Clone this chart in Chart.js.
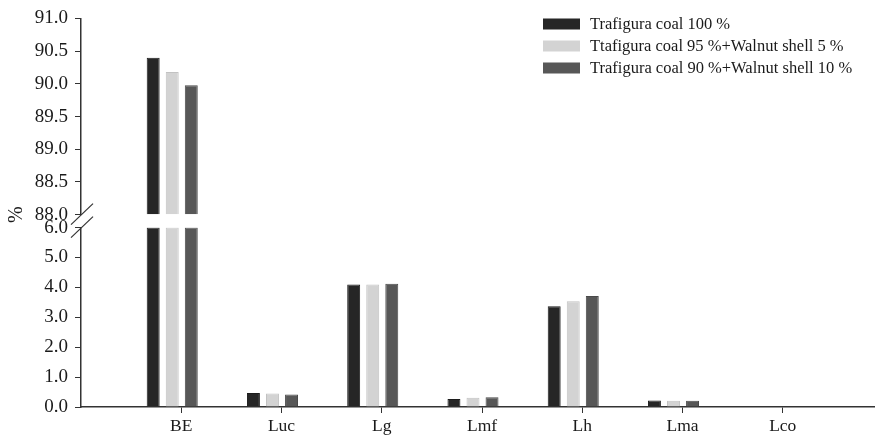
<!DOCTYPE html>
<html>
<head>
<meta charset="utf-8">
<script src="https://cdn.jsdelivr.net/npm/chart.js@4/dist/chart.umd.min.js"></script>
<style>
  html, body { margin: 0; padding: 0; background: #fff; }
  #wrap { width: 875px; height: 443px; position: relative; }
</style>
</head>
<body>
<div id="wrap"><canvas id="breakChart"></canvas></div>
<script>
// ----- data -----
const CATEGORIES = ['BE', 'Luc', 'Lg', 'Lmf', 'Lh', 'Lma', 'Lco'];
const SERIES_LABELS = [
  'Trafigura coal 100 %',
  'Ttafigura coal 95 %+Walnut shell 5 %',
  'Trafigura coal 90 %+Walnut shell 10 %'
];
const COAL_100  = [90.40, 0.47, 4.10, 0.27, 3.37, 0.22, 0];
const WALNUT_5  = [90.18, 0.45, 4.10, 0.31, 3.54, 0.21, 0];
const WALNUT_10 = [89.98, 0.42, 4.12, 0.33, 3.71, 0.21, 0];

// broken y axis: lower 0-6, upper 88-91
const LOWER_MIN = 0, LOWER_MAX = 6, LOWER_STEP = 1;
const UPPER_MIN = 88, UPPER_MAX = 91, UPPER_STEP = 0.5;

const COLORS  = ['#262626', '#d3d3d3', '#575757'];
const BORDERS = ['#1c1c1c', '#c2c2c2', '#4a4a4a'];
const FONT = "'Liberation Serif', 'Times New Roman', serif";
const TEXT = '#1a1a1a';
const BAR_SHIFT = -0.09;   // bars sit a little left of the tick in the original

const series = [COAL_100, WALNUT_5, WALNUT_10];
const datasets = [];
series.forEach((vals, i) => {
  // lower part (clipped at top of lower axis)
  datasets.push({
    label: SERIES_LABELS[i],
    data: vals.map((v, j) => ({ x: j + 1 + BAR_SHIFT, y: Math.min(v, LOWER_MAX) })),
    yAxisID: 'y',
    stack: 's' + i,
    backgroundColor: COLORS[i],
    borderColor: BORDERS[i],
    borderWidth: 1
  });
  // upper part (only values above the break)
  datasets.push({
    label: SERIES_LABELS[i] + ' (upper)',
    data: vals.map((v, j) => ({ x: j + 1 + BAR_SHIFT, y: v > UPPER_MIN ? v : null })),
    yAxisID: 'y2',
    base: UPPER_MIN,
    stack: 's' + i,
    backgroundColor: COLORS[i],
    borderColor: BORDERS[i],
    borderWidth: 1
  });
});

const AXIS_W = 81;
const fixW = s => { s.width = AXIS_W; };
const yTickFont = { family: FONT, size: 19 };
const xTickFont = { family: FONT, size: 17.5 };

// ----- decorations: break marks, % title, legend -----
const decoPlugin = {
  id: 'deco',
  afterDraw(chart) {
    const ctx = chart.ctx;
    const up = chart.scales.y2, lo = chart.scales.y;
    const ax = chart.chartArea.left;
    const yUp = up.getPixelForValue(UPPER_MIN);
    const yLo = lo.getPixelForValue(LOWER_MAX);

    ctx.save();
    ctx.strokeStyle = '#333';
    ctx.lineWidth = 1.2;
    [yUp, yLo].forEach(y => {
      ctx.beginPath();
      ctx.moveTo(ax - 10, y + 10);
      ctx.lineTo(ax + 12, y - 11);
      ctx.stroke();
    });

    // y title
    ctx.fillStyle = TEXT;
    ctx.font = '20px ' + FONT;
    ctx.translate(17, yUp);
    ctx.rotate(-Math.PI / 2);
    ctx.textAlign = 'center';
    ctx.textBaseline = 'middle';
    ctx.fillText('%', 0, 0);
    ctx.restore();

    // legend
    ctx.save();
    ctx.font = '16.5px ' + FONT;
    ctx.textBaseline = 'middle';
    ctx.textAlign = 'left';
    SERIES_LABELS.forEach((lab, i) => {
      const cy = 24 + i * 22;
      ctx.fillStyle = COLORS[i];
      ctx.fillRect(543, cy - 5.5, 37, 11);
      ctx.fillStyle = TEXT;
      ctx.fillText(lab, 590, cy + 1);
    });
    ctx.restore();
  }
};

const ctx = document.getElementById('breakChart').getContext('2d');
new Chart(ctx, {
  type: 'bar',
  data: { datasets },
  options: {
    responsive: true,
    maintainAspectRatio: false,
    animation: false,
    layout: { padding: { top: 15, right: 0, bottom: 0, left: 0 } },
    datasets: { bar: { categoryPercentage: 0.57, barPercentage: 0.68, grouped: true } },
    plugins: { legend: { display: false }, tooltip: { enabled: false } },
    scales: {
      x: {
        type: 'linear',
        min: 0,
        max: 7.92,
        offset: false,
        grid: { display: true, drawOnChartArea: false, drawTicks: true, tickLength: 6, color: '#333', offset: false },
        border: { display: true, color: '#333', width: 1.5 },
        afterBuildTicks: s => { s.ticks = CATEGORIES.map((c, i) => ({ value: i + 1 })); },
        afterFit: s => { s.height = 36; },
        ticks: {
          autoSkip: false, maxRotation: 0, padding: 3,
          color: TEXT, font: xTickFont,
          callback: v => CATEGORIES[Math.round(v) - 1] || ''
        }
      },
      y2: {
        type: 'linear',
        position: 'left',
        stack: 'v',
        stackWeight: 198,
        weight: 3,
        stacked: false,
        min: UPPER_MIN,
        max: UPPER_MAX,
        afterFit: fixW,
        grid: { display: true, drawOnChartArea: false, drawTicks: true, tickLength: 6, color: '#333' },
        border: { display: true, color: '#333', width: 1.5 },
        ticks: {
          stepSize: UPPER_STEP, autoSkip: false, padding: 7, color: TEXT,
          font: yTickFont,
          callback: v => Number(v).toFixed(1)
        }
      },
      yGap: {
        type: 'linear',
        position: 'left',
        stack: 'v',
        stackWeight: 13,
        weight: 2,
        min: 0,
        max: 1,
        afterFit: fixW,
        grid: { display: false },
        border: { display: false },
        ticks: { display: false }
      },
      y: {
        type: 'linear',
        position: 'left',
        stack: 'v',
        stackWeight: 181,
        weight: 1,
        stacked: false,
        min: LOWER_MIN,
        max: LOWER_MAX,
        afterFit: fixW,
        grid: { display: true, drawOnChartArea: false, drawTicks: true, tickLength: 6, color: '#333' },
        border: { display: true, color: '#333', width: 1.5 },
        ticks: {
          stepSize: LOWER_STEP, autoSkip: false, padding: 7, color: TEXT,
          font: yTickFont,
          callback: v => Number(v).toFixed(1)
        }
      }
    }
  },
  plugins: [decoPlugin]
});
</script>
</body>
</html>
